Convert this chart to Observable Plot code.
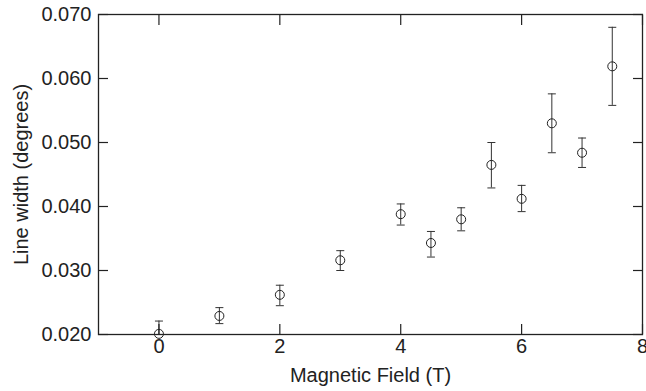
<!DOCTYPE html>
<html>
<head>
<meta charset="utf-8">
<script src="https://cdn.jsdelivr.net/npm/d3@7"></script>
<script src="https://cdn.jsdelivr.net/npm/@observablehq/plot@0.6"></script>
<style>
  html, body { margin: 0; padding: 0; background: #fff; }
</style>
</head>
<body>
<div id="chart"></div>
<script>
// Data
const field = [0, 1, 2, 3, 4, 4.5, 5, 5.5, 6, 6.5, 7, 7.5];
const lineWidth = [0.0201, 0.0229, 0.0262, 0.0316, 0.0388, 0.0343, 0.0380, 0.0465, 0.0412, 0.0530, 0.0484, 0.0619];
const errUpper = [0.0221, 0.0242, 0.0277, 0.0331, 0.0404, 0.0361, 0.0398, 0.0500, 0.0433, 0.0576, 0.0507, 0.0680];
const errLower = [0.0181, 0.0217, 0.0245, 0.0300, 0.0371, 0.0321, 0.0362, 0.0429, 0.0392, 0.0484, 0.0461, 0.0558];
const xTicks = [0, 2, 4, 6, 8];
const yTicks = [0.020, 0.030, 0.040, 0.050, 0.060, 0.070];
const xLabel = "Magnetic Field (T)";
const yLabel = "Line width (degrees)";

const rows = field.map((f, i) => ({f, w: lineWidth[i], lo: errLower[i], hi: errUpper[i]}));

// horizontal cap symbol for error bars
const capSymbol = {
  draw(ctx, size) {
    const w = Math.sqrt(size / Math.PI);
    ctx.moveTo(-w, 0);
    ctx.lineTo(w, 0);
  }
};

const ink = "#222";

const chart = Plot.plot({
  width: 646,
  height: 391,
  marginLeft: 98,
  marginRight: 4,
  marginTop: 14,
  marginBottom: 57,
  style: {fontFamily: "'Liberation Sans', Arial, Helvetica, sans-serif", fontSize: "20px", color: ink, background: "#fff"},
  x: {domain: [-1, 8]},
  y: {domain: [0.02, 0.07]},
  marks: [
    // error bars
    Plot.ruleX(rows, {x: "f", y1: "lo", y2: "hi", stroke: "#333", strokeWidth: 1, clip: true}),
    Plot.dot(rows, {x: "f", y: "hi", symbol: capSymbol, r: 4, stroke: "#333", strokeWidth: 1, fill: "none", clip: true}),
    Plot.dot(rows, {x: "f", y: "lo", symbol: capSymbol, r: 4, stroke: "#333", strokeWidth: 1, fill: "none", clip: true}),
    // points
    Plot.dot(rows, {x: "f", y: "w", r: 4.5, stroke: ink, strokeWidth: 1, fill: "none"}),
    // axes labels
    Plot.axisY({anchor: "left", ticks: yTicks, tickSize: 0, tickPadding: 7, tickFormat: d3.format(".3f"),
      label: yLabel, labelAnchor: "center", labelOffset: 85, labelArrow: "none", fill: ink}),
    Plot.axisX({anchor: "bottom", ticks: xTicks, tickSize: 0, tickPadding: 4, tickFormat: d3.format("d"),
      label: xLabel, labelAnchor: "center", labelOffset: 47, labelArrow: "none", fill: ink}),
    // inward ticks on all four sides
    Plot.axisY({anchor: "left", ticks: yTicks, tickSize: -10, tickFormat: () => "", label: null, stroke: ink, strokeWidth: 1.2}),
    Plot.axisY({anchor: "right", ticks: yTicks, tickSize: -10, tickFormat: () => "", label: null, stroke: ink, strokeWidth: 1.2}),
    Plot.axisX({anchor: "bottom", ticks: xTicks, tickSize: -10, tickFormat: () => "", label: null, stroke: ink, strokeWidth: 1.2}),
    Plot.axisX({anchor: "top", ticks: xTicks, tickSize: -10, tickFormat: () => "", label: null, stroke: ink, strokeWidth: 1.2}),
    Plot.frame({stroke: ink, strokeWidth: 1.3})
  ]
});

document.getElementById("chart").appendChild(chart);
</script>
</body>
</html>
